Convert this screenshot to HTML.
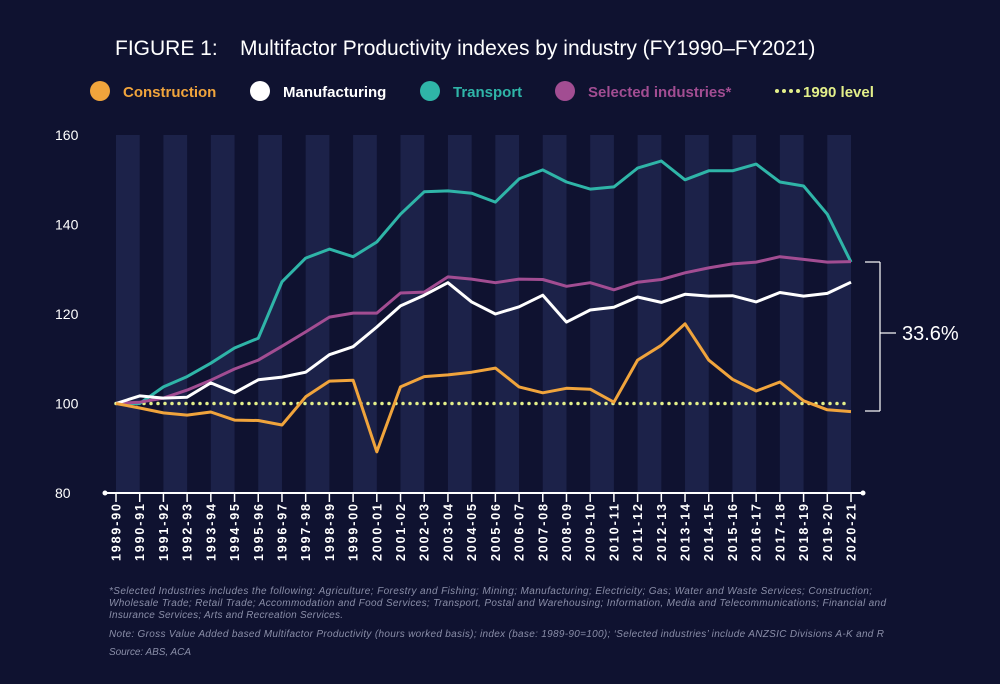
<!DOCTYPE html>
<html><head><meta charset="utf-8">
<style>
html,body{margin:0;padding:0;background:#0f1230;}
body{width:1000px;height:684px;overflow:hidden;font-family:"Liberation Sans","DejaVu Sans",sans-serif;}
svg{display:block}
</style></head>
<body>
<svg id="chart" width="1000" height="684" viewBox="0 0 1000 684">
<rect x="0" y="0" width="1000" height="684" fill="#0f1230"/>
<text x="115" y="55" fill="#ffffff" font-size="21">FIGURE 1:<tspan x="240">Multifactor Productivity indexes by industry (FY1990–FY2021)</tspan></text>
<g id="legend"></g>
<g id="bands"></g>
<g id="yaxis"></g>
<g id="xaxis"></g>
<g id="series"></g>
<g>
<line x1="865" y1="262" x2="880" y2="262" stroke="#fff" stroke-width="1.2"/>
<line x1="865" y1="411" x2="880" y2="411" stroke="#fff" stroke-width="1.2"/>
<line x1="880" y1="262" x2="880" y2="411" stroke="#fff" stroke-width="1.2"/>
<line x1="880" y1="333" x2="896" y2="333" stroke="#fff" stroke-width="1.2"/>
<text x="902" y="340" fill="#fff" font-size="20">33.6%</text>
</g>
<g fill="#8a8ea8" font-size="10" font-style="italic">
<text x="109" y="594" textLength="763" lengthAdjust="spacing">*Selected Industries includes the following: Agriculture; Forestry and Fishing; Mining; Manufacturing; Electricity; Gas; Water and Waste Services; Construction;</text>
<text x="109" y="606" textLength="777" lengthAdjust="spacing">Wholesale Trade; Retail Trade; Accommodation and Food Services; Transport, Postal and Warehousing; Information, Media and Telecommunications; Financial and</text>
<text x="109" y="618" textLength="234" lengthAdjust="spacing">Insurance Services; Arts and Recreation Services.</text>
<text x="109" y="637" textLength="775" lengthAdjust="spacing">Note: Gross Value Added based Multifactor Productivity (hours worked basis); index (base: 1989-90=100); ‘Selected industries’ include ANZSIC Divisions A-K and R</text>
<text x="109" y="655" textLength="82" lengthAdjust="spacing">Source: ABS, ACA</text>
</g>
</svg>
<script>
const years = ["1989-90","1990-91","1991-92","1992-93","1993-94","1994-95","1995-96","1996-97","1997-98","1998-99","1999-00","2000-01","2001-02","2002-03","2003-04","2004-05","2005-06","2006-07","2007-08","2008-09","2009-10","2010-11","2011-12","2012-13","2013-14","2014-15","2015-16","2016-17","2017-18","2018-19","2019-20","2020-21"];
const construction = [100,99,97.9,97.4,98.1,96.3,96.2,95.2,101.5,105,105.2,89.2,103.7,106,106.4,107,107.9,103.7,102.4,103.4,103.2,100.3,109.7,113,117.8,109.7,105.4,102.8,104.8,100.6,98.6,98.2];
const manufacturing = [100,101.7,101.2,101.4,104.6,102.4,105.3,105.9,107,110.9,112.7,117.1,121.8,124.2,127,122.7,120,121.6,124.2,118.2,120.9,121.5,123.8,122.6,124.4,124,124.1,122.7,124.8,124,124.6,127.1];
const transport = [100,100,103.7,106,109,112.4,114.6,127.2,132.5,134.5,132.8,136.1,142.3,147.3,147.5,147,145,150.2,152.2,149.5,147.9,148.4,152.6,154.2,150,152,152,153.5,149.5,148.6,142.3,131.6];
const selected = [100,100.3,101.2,103,105.2,107.7,109.7,112.8,116,119.3,120.2,120.2,124.7,124.9,128.3,127.8,127,127.8,127.7,126.2,127,125.4,127.1,127.7,129.2,130.3,131.2,131.6,132.8,132.2,131.6,131.7];
const yTicks = [80,100,120,140,160];
const baseline = 100;
const seriesNames = ["Construction","Manufacturing","Transport","Selected industries*"];
const seriesColors = ["#f0a43c","#ffffff","#2fb5a8","#a24d92"];

const NS="http://www.w3.org/2000/svg";
function mk(tag,attrs,parent){const e=document.createElementNS(NS,tag);for(const k in attrs)e.setAttribute(k,attrs[k]);parent.appendChild(e);return e;}
const x0=116,x1=851,yTop=135,yBot=493,vMin=80,vMax=160;
const xs=i=>x0+i*(x1-x0)/(years.length-1);
const ys=v=>yBot-(v-vMin)*(yBot-yTop)/(vMax-vMin);

const bands=document.getElementById('bands');
for(let i=0;i<years.length-1;i+=2){
  const r=mk('rect',{x:xs(i),y:yTop,width:xs(i+1)-xs(i),height:yBot-yTop,fill:'#1c2249'},bands);
  
  
}
const yaxis=document.getElementById('yaxis');
yTicks.forEach(v=>{
  const t=mk('text',{x:55,y:ys(v)+5,fill:'#fff','font-size':14},yaxis);
  t.textContent=v;
  
  
});
const xaxis=document.getElementById('xaxis');
mk('line',{x1:105,y1:yBot,x2:863,y2:yBot,stroke:'#fff','stroke-width':2},xaxis);
mk('circle',{cx:105,cy:yBot,r:2.5,fill:'#fff'},xaxis);
mk('circle',{cx:863,cy:yBot,r:2.5,fill:'#fff'},xaxis);
years.forEach((y,i)=>{
  mk('line',{x1:xs(i),y1:yBot,x2:xs(i),y2:yBot+9,stroke:'#fff','stroke-width':1.5},xaxis);
  const t=mk('text',{x:0,y:0,fill:'#fff','font-size':12.5,'font-weight':'bold','text-anchor':'end',textLength:57,lengthAdjust:'spacing',transform:`translate(${xs(i)+4.5},${yBot+11}) rotate(-90)`},xaxis);
  t.textContent=y;
  
  
});
const sg=document.getElementById('series');
const bl=mk('line',{x1:xs(0),y1:ys(baseline),x2:xs(years.length-1),y2:ys(baseline),stroke:'#e3ef8a','stroke-width':3.5,'stroke-dasharray':'0 7','stroke-linecap':'round'},sg);


const data=[construction,manufacturing,transport,selected];
const order=[2,3,1,0];
order.forEach(k=>{
  const d=data[k].map((v,i)=>(i?'L':'M')+xs(i).toFixed(1)+','+ys(v).toFixed(1)).join('');
  const p=mk('path',{d:d,fill:'none',stroke:seriesColors[k],'stroke-width':3,'stroke-linejoin':'round'},sg);
  
  
});
const lg=document.getElementById('legend');
const lx=[100,260,430,565];
seriesNames.forEach((n,k)=>{
  const g=mk('g',{},lg);
  
  
  mk('circle',{cx:lx[k],cy:91,r:10,fill:seriesColors[k]},g);
  const t=mk('text',{x:lx[k]+23,y:97,fill:seriesColors[k],'font-size':15,'font-weight':'bold'},g);
  t.textContent=n;
});
const g5=mk('g',{},lg);


for(let j=0;j<4;j++)mk('circle',{cx:777+j*7,cy:91,r:2,fill:'#e3ef8a'},g5);
const t5=mk('text',{x:803,y:97,fill:'#e3ef8a','font-size':15,'font-weight':'bold'},g5);
t5.textContent='1990 level';
</script>
</body></html>
